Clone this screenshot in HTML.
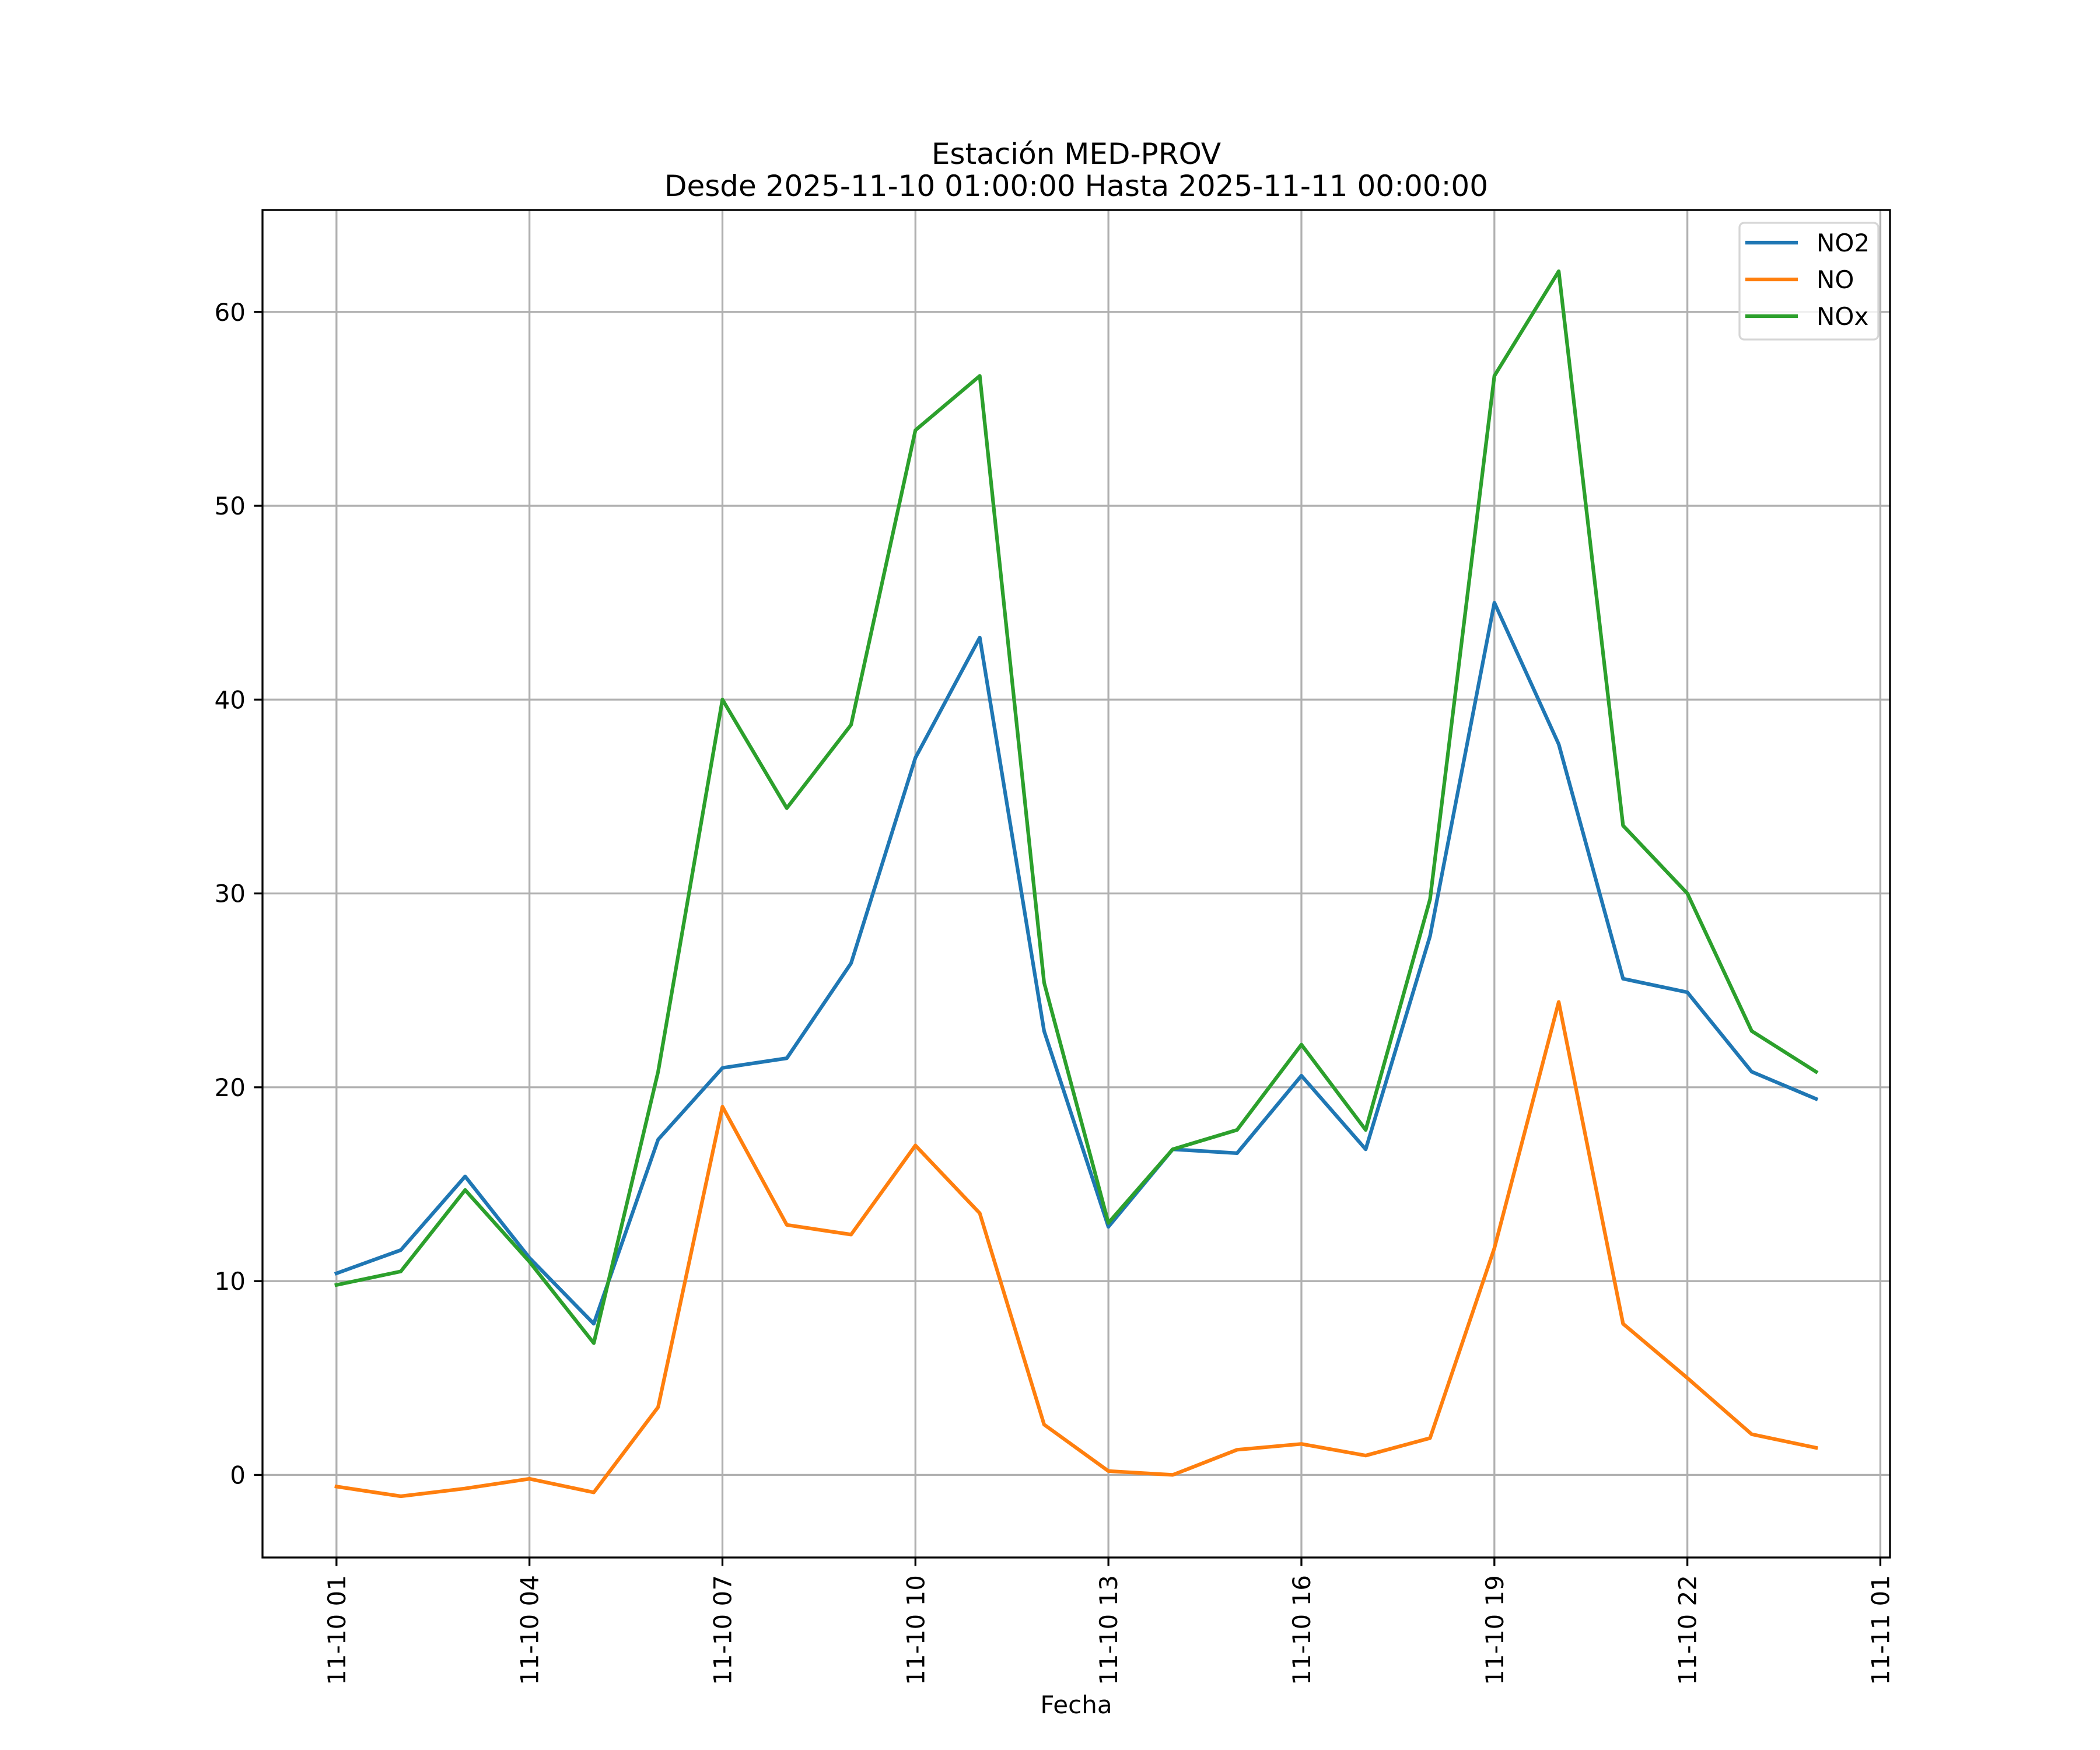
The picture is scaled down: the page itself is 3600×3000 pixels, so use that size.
<!DOCTYPE html>
<html><head><meta charset="utf-8"><style>
html,body{margin:0;padding:0;background:#fff}
svg{display:block}
text{font-family:"DejaVu Sans","Liberation Sans",sans-serif;fill:#000}
</style></head><body>
<svg id="chart" width="3600" height="3000" xmlns="http://www.w3.org/2000/svg">
<rect width="3600" height="3000" fill="#fff"/>
<text x="1845" y="281" font-size="50" text-anchor="middle">Estación MED-PROV</text>
<text x="1845" y="336" font-size="50" text-anchor="middle">Desde 2025-11-10 01:00:00 Hasta 2025-11-11 00:00:00</text>
<g id="grid"></g>
<g id="series"></g>
<rect x="450" y="360" width="2790" height="2310" fill="none" stroke="#000" stroke-width="3.3"/>
<g id="ticks"></g>
<text x="1845" y="2937" font-size="42" text-anchor="middle">Fecha</text>
<g id="legend"></g>
</svg>
<script>
const hours = [1,2,3,4,5,6,7,8,9,10,11,12,13,14,15,16,17,18,19,20,21,22,23,24];
const no2 = [10.4,11.6,15.4,11.2,7.8,17.3,21.0,21.5,26.4,37.0,43.2,22.9,12.8,16.8,16.6,20.6,16.8,27.8,45.0,37.7,25.6,24.9,20.8,19.4];
const no = [-0.6,-1.1,-0.7,-0.2,-0.9,3.5,19.0,12.9,12.4,17.0,13.5,2.6,0.2,0.0,1.3,1.6,1.0,1.9,11.7,24.4,7.8,5.0,2.1,1.4];
const nox = [9.8,10.5,14.7,11.0,6.8,20.8,40.0,34.4,38.7,53.9,56.7,25.4,13.0,16.8,17.8,22.2,17.8,29.7,56.7,62.1,33.5,30.0,22.9,20.8];
const xTicks = [1,4,7,10,13,16,19,22,25];
const xTickLabels = ["11-10 01","11-10 04","11-10 07","11-10 10","11-10 13","11-10 16","11-10 19","11-10 22","11-11 01"];
const yTicks = [0,10,20,30,40,50,60];
const seriesNames = ["NO2","NO","NOx"];

const NS="http://www.w3.org/2000/svg";
const L=450,R=3240,T=360,B=2670;
const allv=no2.concat(no,nox);
const vmin=Math.min(...allv),vmax=Math.max(...allv);
const ymin=vmin-0.05*(vmax-vmin),ymax=vmax+0.05*(vmax-vmin);
const xmin=hours[0]-0.05*(hours[hours.length-1]-hours[0]),xmax=hours[hours.length-1]+0.05*(hours[hours.length-1]-hours[0]);
const sx=h=>L+(h-xmin)/(xmax-xmin)*(R-L);
const sy=v=>B-(v-ymin)/(ymax-ymin)*(B-T);
function mk(tag,attrs,parent){const e=document.createElementNS(NS,tag);for(const k in attrs)e.setAttribute(k,attrs[k]);parent.appendChild(e);return e;}
const grid=document.getElementById('grid'),ticks=document.getElementById('ticks'),series=document.getElementById('series'),legend=document.getElementById('legend');
xTicks.forEach((h,i)=>{
  const x=sx(h);
  const g=mk('line',{x1:x,x2:x,y1:T,y2:B,stroke:'#b0b0b0','stroke-width':3.3},grid);
  
  
  const t=mk('line',{x1:x,x2:x,y1:B,y2:B+14.6,stroke:'#000','stroke-width':3.3},ticks);
  
  
  const lb=mk('text',{x:0,y:0,'font-size':42,'text-anchor':'end',transform:`translate(${x+15},2700) rotate(-90)`},ticks);
  lb.textContent=xTickLabels[i];
  
  
});
yTicks.forEach(v=>{
  const y=sy(v);
  const g=mk('line',{x1:L,x2:R,y1:y,y2:y,stroke:'#b0b0b0','stroke-width':3.3},grid);
  
  
  const t=mk('line',{x1:L-14.6,x2:L,y1:y,y2:y,stroke:'#000','stroke-width':3.3},ticks);
  
  
  const lb=mk('text',{x:L-29,y:y+15,'font-size':42,'text-anchor':'end'},ticks);
  lb.textContent=String(v);
  
  
});
const colors=['#1f77b4','#ff7f0e','#2ca02c'];
[no2,no,nox].forEach((arr,si)=>{
  const pts=arr.map((v,i)=>sx(hours[i]).toFixed(1)+','+sy(v).toFixed(1)).join(' ');
  const p=mk('polyline',{points:pts,fill:'none',stroke:colors[si],'stroke-width':6.25,'stroke-linejoin':'round','stroke-linecap':'square'},series);
  
  
});
const box=mk('rect',{x:2982,y:382,width:238,height:200,rx:8,fill:'#fff','fill-opacity':0.8,stroke:'#d6d6d6','stroke-width':3.3},legend);


seriesNames.forEach((n,i)=>{
  const y=416+i*63;
  const ln=mk('line',{x1:2992,x2:3082,y1:y,y2:y,stroke:colors[i],'stroke-width':6.25},legend);
  
  
  const tx=mk('text',{x:3114,y:y+15,'font-size':42},legend);
  tx.textContent=n;
  
  
});
</script>
</body></html>
